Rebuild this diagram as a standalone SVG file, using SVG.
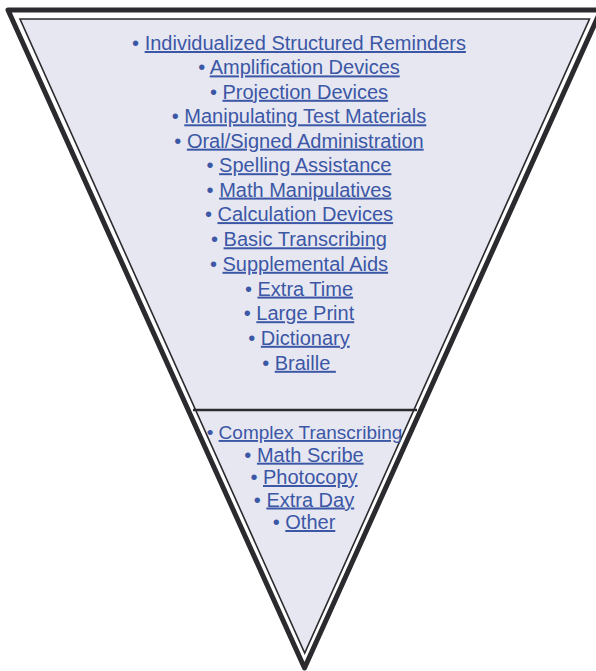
<svg xmlns="http://www.w3.org/2000/svg" width="596" height="671" viewBox="0 0 596 671">
<style>
.t{font-family:"Liberation Sans",Arial,sans-serif;font-size:20px;fill:#3b57a6;text-anchor:middle}
.u{text-decoration:underline}
</style>
<rect width="596" height="671" fill="#ffffff"/>
<g id="funnel">
<polygon points="8,10 601,10 304.5,668" fill="#ffffff" stroke="#2b2a2e" stroke-width="5" stroke-linejoin="round"/>
<polygon points="20,19 589.5,19 304.7,653" fill="#e7e7f1" stroke="#2b2a2e" stroke-width="1.6"/>
<line x1="193" y1="410" x2="417" y2="410" stroke="#2b2a2e" stroke-width="2.5"/>
</g>
<g id="upper">
<text class="t" x="299" y="50">• <tspan class="u">Individualized Structured Reminders</tspan></text>
<text class="t" x="299" y="74.4">• <tspan class="u">Amplification Devices</tspan></text>
<text class="t" x="299" y="98.8">• <tspan class="u">Projection Devices</tspan></text>
<text class="t" x="299" y="123.3">• <tspan class="u">Manipulating Test Materials</tspan></text>
<text class="t" x="299" y="147.7">• <tspan class="u">Oral/Signed Administration</tspan></text>
<text class="t" x="299" y="172.2">• <tspan class="u">Spelling Assistance</tspan></text>
<text class="t" x="299" y="196.6">• <tspan class="u">Math Manipulatives</tspan></text>
<text class="t" x="299" y="221.1">• <tspan class="u">Calculation Devices</tspan></text>
<text class="t" x="299" y="246.3">• <tspan class="u">Basic Transcribing</tspan></text>
<text class="t" x="299" y="270.8">• <tspan class="u">Supplemental Aids</tspan></text>
<text class="t" x="299" y="295.6">• <tspan class="u">Extra Time</tspan></text>
<text class="t" x="299" y="320.2">• <tspan class="u">Large Print</tspan></text>
<text class="t" x="299" y="344.8">• <tspan class="u">Dictionary</tspan></text>
<text class="t" x="299" y="369.8">• <tspan class="u">Braille&#160;</tspan></text>
</g>
<g id="lower">
<text class="t" x="304.5" y="439" style="font-size:19px">• <tspan class="u">Complex Transcribing</tspan></text>
<text class="t" x="304" y="461.7">• <tspan class="u">Math Scribe</tspan></text>
<text class="t" x="304" y="484">• <tspan class="u">Photocopy</tspan></text>
<text class="t" x="304" y="506.5">• <tspan class="u">Extra Day</tspan></text>
<text class="t" x="304" y="529">• <tspan class="u">Other</tspan></text>
</g>
</svg>
